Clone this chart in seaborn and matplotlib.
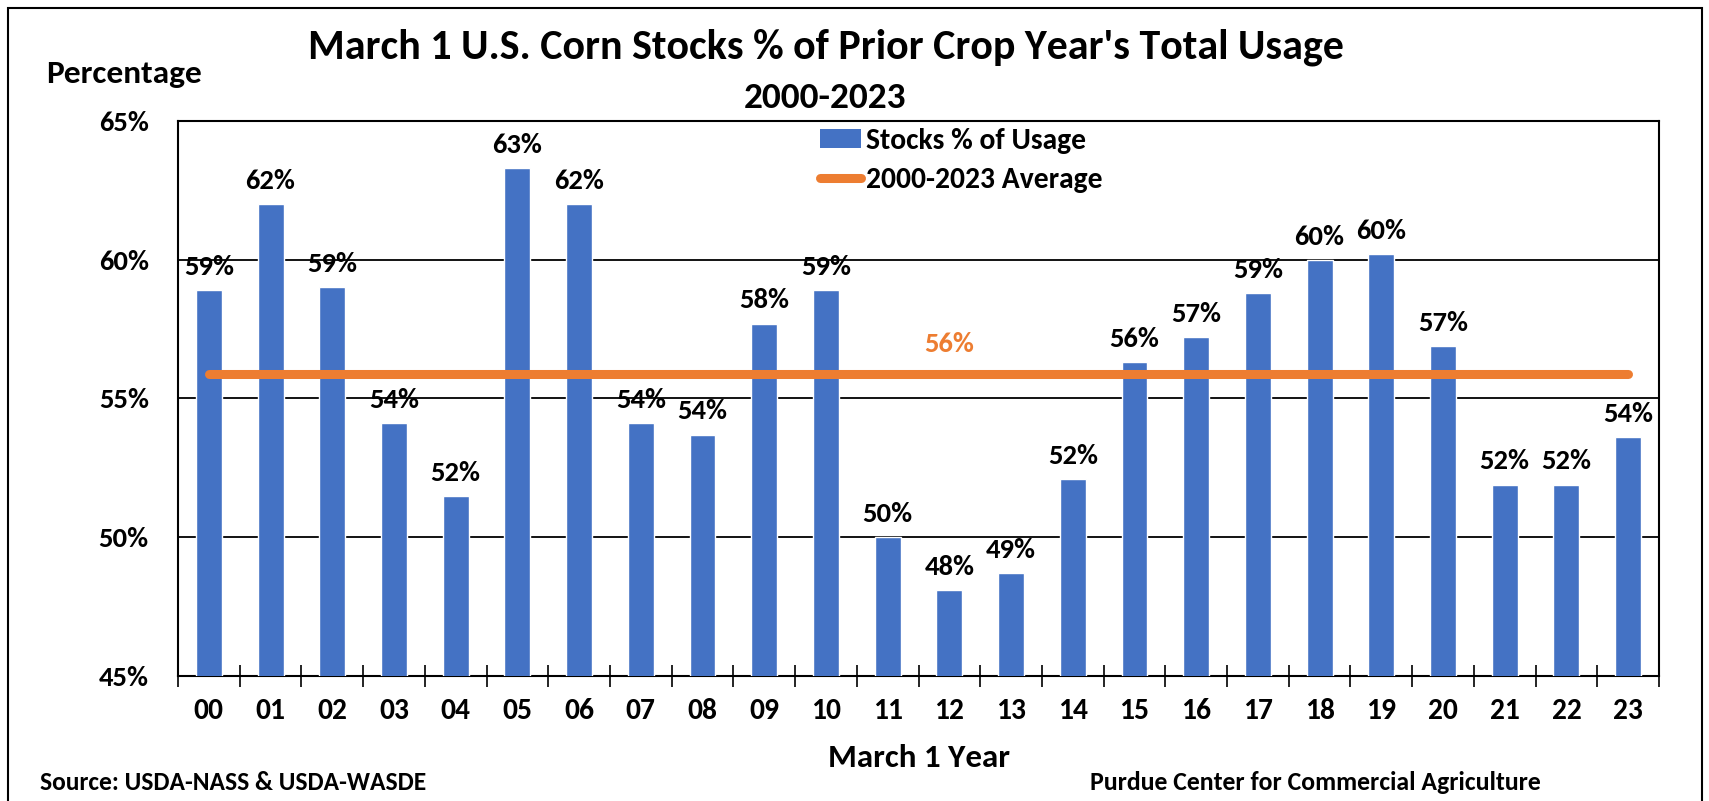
import matplotlib
matplotlib.use("Agg")
import matplotlib.pyplot as plt
import seaborn as sns
from matplotlib import font_manager as fm
from matplotlib.patches import Patch, Rectangle
from matplotlib.lines import Line2D

# ---- data ----
years = ["00", "01", "02", "03", "04", "05", "06", "07", "08", "09", "10", "11",
         "12", "13", "14", "15", "16", "17", "18", "19", "20", "21", "22", "23"]
stocks_pct = [58.9, 62.0, 59.0, 54.1, 51.5, 63.3, 62.0, 54.1, 53.7, 57.7, 58.9, 50.0,
              48.1, 48.7, 52.1, 56.3, 57.2, 58.8, 60.0, 60.2, 56.9, 51.9, 51.9, 53.6]
average_pct = 55.9
y_ticks = [45, 50, 55, 60, 65]

BLUE = "#4472C4"
ORANGE = "#ED7D31"
W, H = 1709, 801

# pick a font resembling Calibri if one exists
fonts = fm.fontManager.ttflist
names = {f.name for f in fonts}
family = None
for cand in ["Carlito", "Liberation Sans Narrow", "Roboto Condensed",
             "Open Sans Condensed", "Noto Sans Condensed", "Lato"]:
    if cand in names:
        family = cand
        break
if family is None:
    family = "DejaVu Sans"

sns.set_theme(style="white")
plt.rcParams["font.family"] = [family, "DejaVu Sans"]
plt.rcParams["font.weight"] = "bold"
plt.rcParams["text.color"] = "black"
plt.rcParams["xtick.color"] = "black"
plt.rcParams["ytick.color"] = "black"

fig = plt.figure(figsize=(W / 100, H / 100), dpi=100)
renderer = fig.canvas.get_renderer()


def fx(px):
    return px / W


def fy(py):
    return 1 - py / H


def fit_size(text, target_px, base=20):
    t = fig.text(0, 0, text, fontsize=base, fontweight="bold")
    w = t.get_window_extent(renderer).width
    t.remove()
    return base * target_px / w


ax = fig.add_axes([fx(178), fy(676), (1659 - 178) / W, (676 - 121) / H])

sns.barplot(x=years, y=stocks_pct, color=BLUE, width=0.42, ax=ax, saturation=1,
            zorder=3)
ax.plot([0, len(years) - 1], [average_pct, average_pct], color=ORANGE, lw=6.5,
        solid_capstyle="round", zorder=4)

ytick_fs = fit_size("65%", 50)
xtick_fs = fit_size("00", 30)
label_fs = fit_size("63%", 50)

ax.set_ylim(45, 65)
ax.set_xlim(-0.5, len(years) - 0.5)
ax.set_yticks(y_ticks)
ax.set_yticklabels([f"{t}%" for t in y_ticks], fontsize=ytick_fs, fontweight="bold")
ax.set_xticks(range(len(years)))
ax.set_xticklabels(years, fontsize=xtick_fs, fontweight="bold")
ax.tick_params(axis="x", which="major", length=0, pad=16)
ax.tick_params(axis="y", which="major", length=0, pad=21)
ax.set_xticks([i + 0.5 for i in range(-1, len(years))], minor=True)
ax.tick_params(axis="x", which="minor", length=16, width=1.2, direction="inout",
               color="black", bottom=True)
ax.yaxis.grid(True, color="black", lw=1.3, zorder=1)
ax.xaxis.grid(False)
for s in ax.spines.values():
    s.set_color("black")
    s.set_linewidth(1.5)
ax.set_xlabel("")
ax.set_ylabel("")

# data labels
ax.bar_label(ax.containers[0], labels=[f"{v:.0f}%" for v in stocks_pct], padding=8,
             fontsize=label_fs, fontweight="bold", color="black", zorder=5)
ax.text(12, average_pct + 0.78, f"{average_pct:.0f}%", color=ORANGE, fontsize=label_fs,
        fontweight="bold", ha="center", va="baseline", zorder=5)

# legend
leg_fs = fit_size("2000-2023 Average", 237)
tmp = fig.text(0, 0, "2000-2023 Average", fontsize=leg_fs, fontweight="bold")
text_h = tmp.get_window_extent(renderer).height
tmp.remove()
fs_px = leg_fs * 100 / 72
handles = [Patch(facecolor=BLUE, edgecolor="none"),
           Line2D([0], [0], color=ORANGE, lw=6.5, solid_capstyle="round")]
fig.legend(handles, ["Stocks % of Usage", "2000-2023 Average"], loc="upper left",
           bbox_to_anchor=(fx(820), fy(141 - text_h / 2)), frameon=False,
           prop={"size": leg_fs, "weight": "bold"}, handlelength=41 / fs_px,
           handletextpad=5 / fs_px, labelspacing=max(0.0, (39 - text_h) / fs_px),
           borderpad=0, borderaxespad=0, handleheight=0.6)

# titles and annotations
title = "March 1 U.S. Corn Stocks % of Prior Crop Year's Total Usage"
fig.text(fx(826), fy(58), title, ha="center", va="baseline",
         fontsize=fit_size(title, 1037), fontweight="bold")
fig.text(fx(825), fy(98), "2000-2023", ha="center", va="center",
         fontsize=fit_size("2000-2023", 163), fontweight="bold")
fig.text(fx(124), fy(74), "Percentage", ha="center", va="center",
         fontsize=fit_size("Percentage", 156), fontweight="bold")
fig.text(fx(919), fy(758), "March 1 Year", ha="center", va="center",
         fontsize=fit_size("March 1 Year", 182), fontweight="bold")
src = "Source: USDA-NASS & USDA-WASDE"
fig.text(fx(40), fy(783), src, ha="left", va="center",
         fontsize=fit_size(src, 387), fontweight="bold")
pur = "Purdue Center for Commercial Agriculture"
fig.text(fx(1090), fy(783), pur, ha="left", va="center",
         fontsize=fit_size(pur, 450), fontweight="bold")

# figure border
fig.patches.append(Rectangle((fx(8), -0.05), (1702 - 8) / W, fy(8) + 0.05,
                             transform=fig.transFigure, fill=False, edgecolor="black",
                             lw=1.5))

fig.savefig("out.png", dpi=100)
